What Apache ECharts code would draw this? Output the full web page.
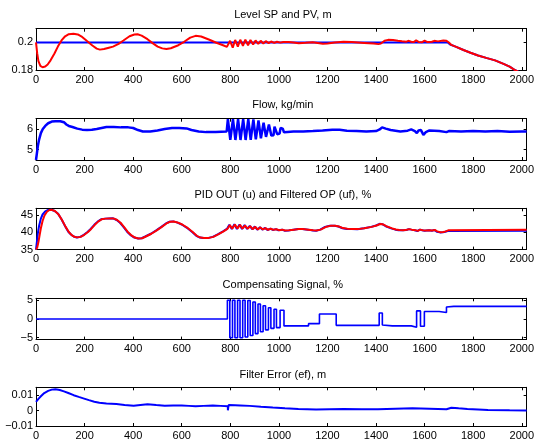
<!DOCTYPE html>
<html><head><meta charset="utf-8">
<script src="https://cdn.jsdelivr.net/npm/echarts@6/dist/echarts.min.js"></script>
<style>html,body{margin:0;padding:0;background:#fff}#c{width:537px;height:441px}</style>
</head><body><div id="c"></div>
<script>
// ---- tick labels ----
const xTicks = [0, 200, 400, 600, 800, 1000, 1200, 1400, 1600, 1800, 2000];
const levelTicks = [0.18, 0.2];
const flowTicks = [5, 6];
const pidTicks = [35, 40, 45];
const compTicks = [-5, 0, 5];
const errTicks = [-0.01, 0, 0.01];

const titles = ['Level SP and PV, m', 'Flow, kg/min', 'PID OUT (u) and Filtered OP (uf), %',
  'Compensating Signal, %', 'Filter Error (ef), m'];

// ---- series values: [time, value] ----
const levelSP = [[0,0.2],[1695,0.2],[1705,0.1985],[1730,0.1968],[1760,0.1945],[1789,0.1925],[1820,0.1905],
  [1857,0.1886],[1890,0.187],[1925,0.1845],[1950,0.1825],[1973,0.1798],[2020,0.176]];

const levelPV = [[0,0.2],[5,0.192],[10,0.1865],[18,0.183],[27,0.182],[38,0.1825],[48,0.184],[60,0.187],
  [76,0.192],[90,0.197],[105,0.2015],[120,0.2045],[135,0.206],[154,0.2063],[172,0.2058],[190,0.204],
  [210,0.201],[232,0.1978],[250,0.1955],[263,0.1948],[280,0.1952],[300,0.1962],[317,0.197],[340,0.199],
  [360,0.2014],[385,0.2045],[405,0.2058],[418,0.206],[435,0.205],[459,0.2024],[480,0.1995],[501,0.197],
  [520,0.1957],[537,0.1952],[555,0.1958],[586,0.198],[610,0.2005],[635,0.2035],[657,0.2048],[680,0.2043],
  [714,0.202],[740,0.2],[770,0.198],[786,0.1968],
  [789,0.1956],[799,0.2012],[810,0.1962],[820,0.2018],[831,0.197],[841,0.202],[852,0.1976],[862,0.202],
  [873,0.198],[883,0.2018],[894,0.1985],[904,0.2015],[915,0.1989],[925,0.2012],[936,0.1992],[946,0.201],
  [958,0.1995],[968,0.2007],[981,0.1997],[992,0.2005],[1006,0.1999],[1018,0.2004],
  [1040,0.2003],[1060,0.2],[1082,0.1995],[1110,0.1998],[1139,0.2002],
  [1160,0.1996],[1181,0.199],[1200,0.1993],[1230,0.2],[1266,0.2005],[1300,0.2003],[1351,0.1997],
  [1390,0.1992],[1410,0.1988],[1420,0.1992],[1435,0.2012],[1450,0.2019],[1470,0.2018],[1490,0.2012],
  [1507,0.2008],[1525,0.2006],[1535,0.2012],[1545,0.2005],[1555,0.2003],[1565,0.2015],[1575,0.2004],
  [1590,0.2002],[1600,0.2013],[1612,0.2003],[1630,0.2005],[1640,0.2012],[1655,0.2008],[1677,0.2014],
  [1690,0.2012],[1700,0.2],[1710,0.1982],[1730,0.1968],[1760,0.1945],[1789,0.1925],[1820,0.1905],
  [1857,0.1886],[1890,0.187],[1925,0.1845],[1950,0.1825],[1973,0.1798],[2000,0.1775],[2020,0.176]];

const flow = [[0,4.5],[4,4.85],[8,5.2],[13,5.5],[20,5.8],[28,6.0],[38,6.15],[50,6.28],[65,6.36],[80,6.38],
  [100,6.38],[115,6.33],[125,6.22],[135,6.15],[150,6.1],[170,6.02],[190,5.97],[210,5.95],[230,5.96],
  [250,6.0],[270,6.05],[290,6.1],[320,6.1],[350,6.08],[380,6.08],[400,6.05],[420,5.95],[440,5.88],
  [470,5.88],[500,5.93],[530,6.0],[560,6.05],[590,6.05],[620,6.03],[640,5.95],[670,5.88],[700,5.85],
  [740,5.86],[785,5.88],
  [790,6.48],[796,6.46],[800,5.48],[807,5.5],
  [811,6.48],[817,6.46],[821,5.47],[828,5.49],
  [832,6.48],[838,6.46],[842,5.47],[849,5.49],
  [853,6.48],[859,6.46],[863,5.47],[870,5.49],
  [874,6.48],[880,6.46],[884,5.48],[891,5.5],
  [895,6.46],[901,6.43],[905,5.5],[912,5.53],
  [916,6.42],[922,6.38],[926,5.55],[933,5.58],
  [937,6.3],[943,6.26],[947,5.62],[955,5.65],
  [959,6.22],[965,6.18],[969,5.68],[978,5.7],
  [982,6.12],[989,6.08],[993,5.75],[1003,5.78],
  [1007,6.05],[1016,6.02],[1021,5.84],[1035,5.86],
  [1060,5.88],[1100,5.88],[1140,5.9],[1180,5.93],[1220,5.97],[1250,5.96],[1280,5.92],[1320,5.9],
  [1360,5.88],[1400,5.9],[1415,5.98],[1425,6.08],[1440,6.02],[1460,5.95],[1500,5.88],[1530,5.92],
  [1545,5.98],[1560,5.9],[1568,5.8],[1575,5.93],[1585,5.95],[1595,5.72],[1605,5.85],[1620,5.93],
  [1660,5.9],[1690,5.85],[1700,5.9],[1750,5.88],[1800,5.9],[1850,5.88],[1900,5.9],[1950,5.87],
  [2000,5.88],[2020,5.88]];

const pidU = [[0,35],[4,37.5],[8,40],[13,42],[20,44],[27,45.2],[38,46.1],[50,46.5],[62,46.6],[75,46.3],
  [90,45.5],[105,43.8],[120,41.8],[133,40.2],[145,39.3],[155,38.8],[168,38.5],[182,38.7],[197,39.3],
  [212,40.1],[225,41],[240,42.2],[255,43.2],[268,43.8],[285,44],[300,44.05],[317,44.1],[332,43.6],
  [346,42.8],[360,41.6],[375,40.2],[388,39.3],[405,38.5],[420,38.2],[435,38.3],[450,38.8],[473,39.6],
  [495,40.6],[516,41.6],[535,42.6],[550,43.1],[565,43.2],[580,42.9],[600,42.3],[620,41.4],[643,40.1],
  [660,39],[675,38.5],[690,38.35],[710,38.4],[728,38.7],[750,39.5],[770,40.3],[786,41],
  [796,42.2],[806,41.0],[817,42.4],[827,41.0],[838,42.3],[848,41.0],[859,42.1],[869,41.0],[880,41.9],
  [890,40.9],[901,41.7],[911,40.8],[922,41.5],[932,40.8],[943,41.3],[953,40.7],[965,41.1],[975,40.7],
  [988,40.95],[998,40.6],[1013,40.8],[1023,40.5],
  [1040,40.55],[1060,40.8],[1080,41.0],[1096,41.0],[1120,40.8],[1140,40.55],[1153,40.5],[1170,40.8],
  [1190,41.6],[1210,41.9],[1230,41.9],[1245,41.7],[1262,41.2],[1280,41.0],[1300,41.0],[1323,40.9],
  [1350,41.2],[1380,41.6],[1400,42.0],[1415,42.5],[1425,42.4],[1440,41.8],[1465,41.1],[1480,40.8],
  [1493,40.65],[1510,40.6],[1525,40.7],[1535,40.95],[1545,40.8],[1560,40.6],[1570,40.4],[1580,40.8],
  [1590,40.6],[1600,40.5],[1608,40.85],[1618,40.6],[1630,40.5],[1640,40.7],[1650,40.2],[1663,40.0],
  [1675,40.05],[1685,40.2],[1695,40.4],[1700,40.45],[2020,40.45]];

const pidUf = [[0,35],[5,35.6],[10,37.2],[15,39.2],[20,41.2],[27,43.3],[35,44.9],[45,46.0],[55,46.5],
  [65,46.55],[78,46.2],[92,45.3],[107,43.6],[122,41.6],[135,40.1],[147,39.2],[157,38.75],[170,38.55],
  [184,38.7],[199,39.3],[214,40.1],[227,41],[242,42.2],[257,43.2],[270,43.8],[287,44],[302,44.05],
  [319,44.05],[334,43.6],[348,42.8],[362,41.6],[377,40.2],[390,39.3],[407,38.5],[422,38.25],[437,38.3],
  [452,38.8],[475,39.6],[497,40.6],[518,41.6],[537,42.6],[552,43.1],[567,43.15],[582,42.9],[602,42.3],
  [622,41.4],[645,40.1],[662,39],[677,38.5],[692,38.4],[712,38.4],[730,38.7],[752,39.5],[772,40.3],
  [788,41],
  [798,42.1],[808,41.1],[819,42.3],[829,41.1],[840,42.2],[850,41.1],[861,42.0],[871,41.05],[882,41.8],
  [892,40.95],[903,41.6],[913,40.85],[924,41.45],[934,40.85],[945,41.25],[955,40.75],[967,41.05],
  [977,40.75],[990,40.9],[1000,40.65],[1015,40.8],[1025,40.55],
  [1042,40.6],[1062,40.8],[1082,41.0],[1098,41.0],[1122,40.8],[1142,40.6],[1155,40.55],[1172,40.8],
  [1192,41.55],[1212,41.9],[1232,41.9],[1247,41.7],[1264,41.25],[1282,41.05],[1302,41.0],[1325,40.95],
  [1352,41.2],[1382,41.6],[1402,42.0],[1417,42.45],[1427,42.4],[1442,41.8],[1467,41.15],[1482,40.85],
  [1495,40.7],[1512,40.65],[1527,40.75],[1537,40.95],[1547,40.8],[1562,40.65],[1572,40.45],[1582,40.8],
  [1592,40.65],[1602,40.55],[1610,40.85],[1620,40.65],[1632,40.55],[1642,40.7],[1652,40.3],[1665,40.05],
  [1677,40.1],[1687,40.3],[1697,40.6],[1705,40.75],[2020,40.75]];

const compSignal = [[0,0],[788,0],[788,5],[798,5],[798,-5],[809,-5],[809,5],[819,5],[819,-5],
  [830,-5],[830,5],[840,5],[840,-5],[851,-5],[851,5],[861,5],[861,-4.8],[872,-4.8],[872,4.9],[882,4.9],
  [882,-4.4],[893,-4.4],[893,4.5],[903,4.5],[903,-3.9],[914,-3.9],[914,4.0],[924,4.0],[924,-3.4],
  [935,-3.4],[935,3.5],[945,3.5],[945,-2.9],[957,-2.9],[957,3.0],[967,3.0],[967,-2.5],[980,-2.5],
  [980,2.6],[990,2.6],[990,-2.3],[1005,-2.3],[1005,2.3],[1021,2.3],[1021,-1.85],[1122,-1.85],[1122,-1.25],
  [1167,-1.25],[1167,1.3],[1236,1.3],[1236,-1.7],[1413,-1.7],[1413,1.6],[1426,1.6],[1426,-1.6],
  [1467,-1.85],[1545,-1.85],[1545,-2.2],[1567,-2.2],[1567,2.15],[1583,2.15],[1583,-1.95],[1599,-1.95],
  [1599,2.0],[1660,2.0],[1660,1.7],[1690,1.7],[1690,3.2],[1720,3.35],[2020,3.35]];

const filterError = [[0,0.0056],[10,0.0075],[20,0.0092],[34,0.0113],[50,0.0127],[65,0.0135],[80,0.0137],
  [98,0.0133],[115,0.0124],[133,0.0113],[155,0.0099],[176,0.0088],[198,0.0077],[218,0.0067],[240,0.0057],
  [261,0.005],[290,0.0046],[331,0.0042],[365,0.0036],[402,0.0031],[430,0.0036],[459,0.004],[495,0.0035],
  [530,0.0031],[565,0.0033],[600,0.0033],[630,0.003],[657,0.0027],[690,0.003],[728,0.0033],[760,0.003],
  [790,0.0027],[790,0.0001],[793,0.0001],[793,0.0035],[820,0.0034],[841,0.0033],[880,0.003],[926,0.0025],
  [975,0.002],[1025,0.0015],[1080,0.001],[1153,0.0006],[1210,0.0008],[1266,0.001],[1340,0.0009],
  [1408,0.0008],[1480,0.0012],[1550,0.0015],[1620,0.0012],[1690,0.0008],[1692,0.0019],[1710,0.0018],
  [1740,0.0014],[1776,0.001],[1820,0.0007],[1861,0.0004],[1950,0.0001],[2020,0]];

// ---- layout of the five stacked panels ----
const FONT = "'Liberation Sans', Arial, Helvetica, sans-serif";
const panelTops = [28.7, 118.7, 208.3, 298.3, 387.3];
const titleTops = [9.5, 99.5, 189.5, 279.5, 369];
const panelH = 41.3, LEFT = 36, WIDTH = 493.7;
const yRanges = [[0.18, 0.21, levelTicks], [4.5, 6.5, flowTicks], [35, 47, pidTicks],
  [-5.5, 5.5, compTicks], [-0.01, 0.015, errTicks]];

const fmt = v => String(+v.toFixed(4)).replace('-', '\u2212');

const grid = [], xAxis = [], yAxis = [], title = [];
panelTops.forEach((top, i) => {
  grid.push({ left: LEFT, width: WIDTH, top: top, height: panelH });
  title.push({ text: titles[i], left: LEFT + WIDTH / 2, top: titleTops[i], padding: 0, textAlign: 'center',
    textStyle: { fontFamily: FONT, fontSize: 11, fontWeight: 'normal', color: '#000' } });
  const line = { onZero: false, lineStyle: { color: '#000', width: 1 } };
  const tick = { inside: true, length: 3, customValues: xTicks, lineStyle: { color: '#000' } };
  xAxis.push({ type: 'value', gridIndex: i, min: 0, max: 2020, position: 'bottom', axisLine: line,
    axisTick: tick, splitLine: { show: false },
    axisLabel: { customValues: xTicks, margin: 4, formatter: v => String(v),
      fontFamily: FONT, fontSize: 11, color: '#000' } });
  xAxis.push({ type: 'value', gridIndex: i, min: 0, max: 2020, position: 'top', axisLine: line,
    axisTick: tick, splitLine: { show: false }, axisLabel: { show: false } });
  const [ymin, ymax, yt] = yRanges[i];
  const ytick = { inside: true, length: 3, customValues: yt, lineStyle: { color: '#000' } };
  yAxis.push({ type: 'value', gridIndex: i, min: ymin, max: ymax, position: 'left', axisLine: line,
    axisTick: ytick, splitLine: { show: false },
    axisLabel: { customValues: yt, margin: 3, formatter: fmt, fontFamily: FONT, fontSize: 11, color: '#000' } });
  yAxis.push({ type: 'value', gridIndex: i, min: ymin, max: ymax, position: 'right', axisLine: line,
    axisTick: ytick, splitLine: { show: false }, axisLabel: { show: false } });
});

const mk = (data, panel, color, width) => ({
  type: 'line', data: data, xAxisIndex: panel * 2, yAxisIndex: panel * 2, showSymbol: false,
  symbol: 'none', clip: true, lineStyle: { color: color, width: width || 2 }, itemStyle: { color: color }
});

const series = [
  mk(levelSP, 0, '#0000ff'),
  mk(levelPV, 0, '#ff0000'),
  mk(flow, 1, '#0000ff', 2.5),
  mk(pidU, 2, '#0000ff'),
  mk(pidUf, 2, '#ff0000'),
  mk(compSignal, 3, '#0000ff', 1.6),
  mk(filterError, 4, '#0000ff')
];

const chart = echarts.init(document.getElementById('c'), null, { renderer: 'canvas' });
chart.setOption({ animation: false, backgroundColor: '#fff', title, grid, xAxis, yAxis, series });
</script></body></html>
